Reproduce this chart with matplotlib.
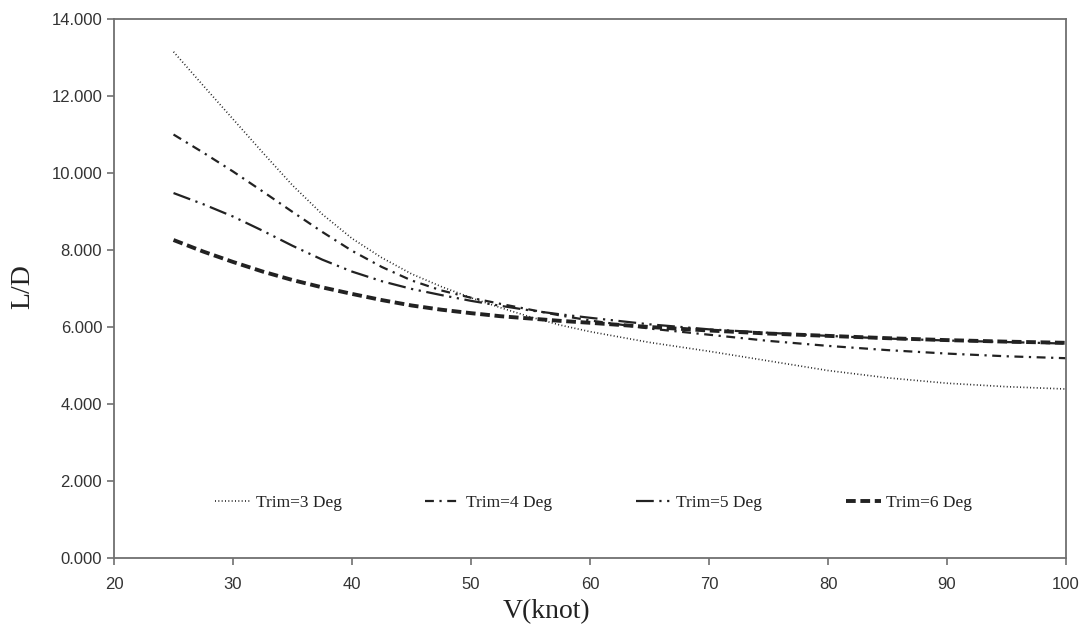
import matplotlib
matplotlib.use("Agg")
import matplotlib.pyplot as plt

V = [25, 27.5, 30, 32.5, 35, 37.5, 40, 42.5, 45, 47.5, 50, 52.5, 55, 57.5, 60,
     65, 70, 75, 80, 85, 90, 95, 100]
trim3 = [13.15, 12.27, 11.40, 10.53, 9.68, 8.93, 8.30, 7.80, 7.38, 7.05, 6.76, 6.50,
         6.26, 6.05, 5.88, 5.60, 5.37, 5.12, 4.87, 4.68, 4.54, 4.45, 4.39]
trim4 = [11.00, 10.53, 10.04, 9.52, 8.99, 8.47, 7.98, 7.56, 7.21, 6.95, 6.76, 6.60,
         6.45, 6.30, 6.17, 5.96, 5.80, 5.64, 5.51, 5.40, 5.31, 5.24, 5.19]
trim5 = [9.48, 9.19, 8.87, 8.50, 8.11, 7.75, 7.44, 7.19, 6.99, 6.83, 6.68, 6.55,
         6.43, 6.33, 6.24, 6.07, 5.94, 5.85, 5.77, 5.70, 5.65, 5.61, 5.57]
trim6 = [8.26, 7.96, 7.69, 7.44, 7.22, 7.03, 6.86, 6.70, 6.56, 6.45, 6.36, 6.28,
         6.22, 6.16, 6.11, 6.00, 5.91, 5.83, 5.77, 5.71, 5.66, 5.62, 5.59]
labels = ["Trim=3 Deg", "Trim=4 Deg", "Trim=5 Deg", "Trim=6 Deg"]
xticks = [20, 30, 40, 50, 60, 70, 80, 90, 100]
yticks = [0, 2, 4, 6, 8, 10, 12, 14]

fig = plt.figure(figsize=(10.87, 6.26), dpi=100)
ax = fig.add_axes([0.1049, 0.1086, 0.8758, 0.861])

c = "#222222"
ax.plot(V, trim3, color=c, lw=1.2, linestyle=(0, (0.6, 1.4)), label=labels[0])
ax.plot(V, trim4, color=c, lw=1.6, linestyle=(0, (4, 2.5, 1, 2.5)), label=labels[1])
ax.plot(V, trim5, color=c, lw=1.6, linestyle=(0, (8, 2.5, 1, 2.5, 1, 2.5)), label=labels[2])
ax.plot(V, trim6, color=c, lw=2.8, linestyle=(0, (2.5, 1.2)), label=labels[3])

ax.set_xlim(20, 100)
ax.set_ylim(0, 14)
ax.set_xticks(xticks)
ax.set_yticks(yticks)
ax.set_yticklabels([f"{v:.3f}" for v in yticks])

for s in ax.spines.values():
    s.set_color("#707070")
    s.set_linewidth(1.3)
ax.tick_params(direction="out", length=5, width=1.2, color="#707070",
               labelsize=12, labelcolor="#333333")
ax.tick_params(axis="x", pad=8.5)
for t in ax.get_xticklabels() + ax.get_yticklabels():
    t.set_family("Liberation Sans")

ax.set_xlabel("V(knot)", family="Liberation Serif", fontsize=20, color="#222222")
ax.xaxis.set_label_coords((546 - 114) / 952, -0.077)
ax.set_ylabel("L/D", family="Liberation Serif", fontsize=20, color="#222222")
ax.yaxis.set_label_coords(-0.083, 0.503)

leg = ax.legend(loc="center", bbox_to_anchor=(0.504, 0.102), ncol=4, frameon=False,
                handlelength=2.05, columnspacing=4.8, handletextpad=0.3,
                prop={"family": "Liberation Serif", "size": 12.5})
for t in leg.get_texts():
    t.set_color("#222222")

fig.savefig("out.png", dpi=100)
